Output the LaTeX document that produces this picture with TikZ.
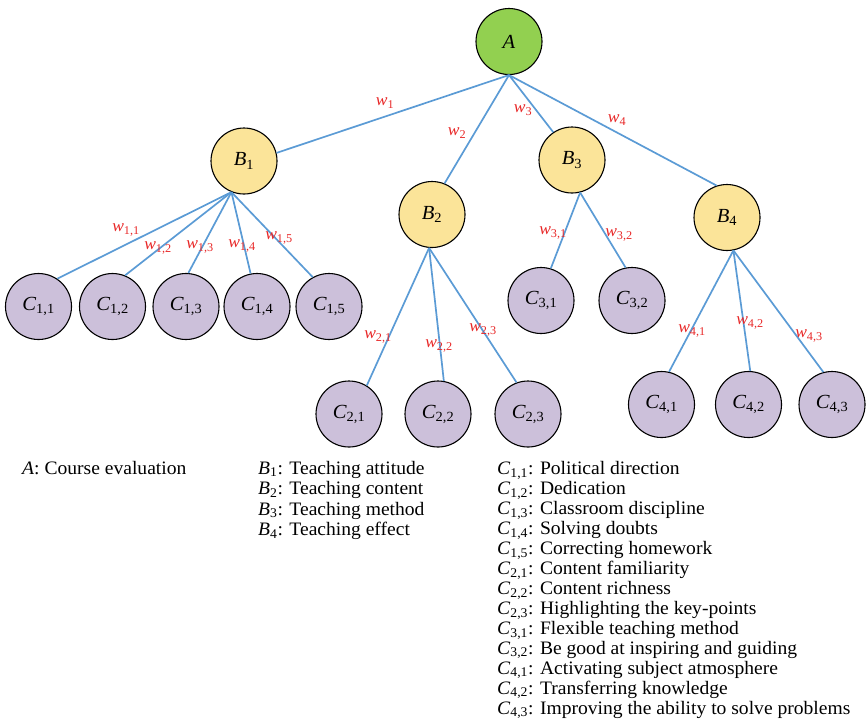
\documentclass[tikz,border=0pt]{standalone}
\usepackage{fontspec}
\setmainfont[FakeStretch=1.03]{Liberation Serif}
\definecolor{agreen}{RGB}{146,208,80}
\definecolor{byellow}{RGB}{251,228,153}
\definecolor{clilac}{RGB}{204,192,218}
\definecolor{lblue}{RGB}{91,155,213}
\definecolor{wred}{RGB}{232,40,40}
\newcommand{\nlab}[2]{\textit{#1}\textsubscript{#2}}
\tikzset{
  circ/.style={circle, draw=black, line width=1.1pt, minimum size=66pt, inner sep=0pt, font=\fontsize{20}{20}\selectfont},
  anode/.style={circ, fill=agreen},
  bnode/.style={circ, fill=byellow},
  cnode/.style={circ, fill=clilac},
  conn/.style={draw=lblue, line width=1.7pt},
  wlab/.style={text=wred, inner sep=0pt, font=\fontsize{17}{17}\selectfont},
  txt/.style={anchor=base west, inner sep=0pt, font=\fontsize{19}{20}\selectfont}
}
\begin{document}
\begin{tikzpicture}[x=1pt,y=-1pt]
\useasboundingbox (0,0) rectangle (866,721);
% nodes
\node[anode] (A) at (509,41.5) {\textit{A}};
\node[bnode] (B1) at (244,161) {\nlab{B}{1}};
\node[bnode] (B2) at (432,214.5) {\nlab{B}{2}};
\node[bnode] (B3) at (572,160) {\nlab{B}{3}};
\node[bnode] (B4) at (727,217.5) {\nlab{B}{4}};
\node[cnode] (C11) at (38.5,306.5) {\nlab{C}{1,1}};
\node[cnode] (C12) at (112.5,306.5) {\nlab{C}{1,2}};
\node[cnode] (C13) at (186,306.5) {\nlab{C}{1,3}};
\node[cnode] (C14) at (257,306.5) {\nlab{C}{1,4}};
\node[cnode] (C15) at (329,306.5) {\nlab{C}{1,5}};
\node[cnode] (C21) at (349,414) {\nlab{C}{2,1}};
\node[cnode] (C22) at (438,414) {\nlab{C}{2,2}};
\node[cnode] (C23) at (528,414) {\nlab{C}{2,3}};
\node[cnode] (C31) at (541,300.5) {\nlab{C}{3,1}};
\node[cnode] (C32) at (632,300.5) {\nlab{C}{3,2}};
\node[cnode] (C41) at (661.5,404.5) {\nlab{C}{4,1}};
\node[cnode] (C42) at (748.5,404.5) {\nlab{C}{4,2}};
\node[cnode] (C43) at (832,404.5) {\nlab{C}{4,3}};
% connectors
\draw[conn] (A.south) -- (B1.14);
\draw[conn] (A.south) -- (B2.68);
\draw[conn] (A.south) -- (B3.124);
\draw[conn] (A.south) -- (B4.108);
\draw[conn] (B1.248) -- (C11.56);
\draw[conn] (B1.248) -- (C12.68);
\draw[conn] (B1.248) -- (C13.86);
\draw[conn] (B1.248) -- (C14.101);
\draw[conn] (B1.248) -- (C15.119);
\draw[conn] (B2.265) -- (C21.58);
\draw[conn] (B2.265) -- (C22.80);
\draw[conn] (B2.265) -- (C23.110);
\draw[conn] (B3.284) -- (C31.73);
\draw[conn] (B3.284) -- (C32.101);
\draw[conn] (B4.281) -- (C41.77);
\draw[conn] (B4.281) -- (C42.87);
\draw[conn] (B4.281) -- (C43.105);
% weights
\node[wlab] (w1) at (385,103) {\nlab{w}{1}};
\node[wlab] (w2) at (457,133) {\nlab{w}{2}};
\node[wlab] (w3) at (523,110) {\nlab{w}{3}};
\node[wlab] (w4) at (617,120) {\nlab{w}{4}};
\node[wlab] (w11) at (126,230) {\nlab{w}{1,1}};
\node[wlab] (w12) at (158,248) {\nlab{w}{1,2}};
\node[wlab] (w13) at (200,247) {\nlab{w}{1,3}};
\node[wlab] (w14) at (242,246) {\nlab{w}{1,4}};
\node[wlab] (w15) at (279,238) {\nlab{w}{1,5}};
\node[wlab] (w21) at (378,337) {\nlab{w}{2,1}};
\node[wlab] (w22) at (439,346) {\nlab{w}{2,2}};
\node[wlab] (w23) at (483,330) {\nlab{w}{2,3}};
\node[wlab] (w31) at (553,233) {\nlab{w}{3,1}};
\node[wlab] (w32) at (619,235) {\nlab{w}{3,2}};
\node[wlab] (w41) at (692,331) {\nlab{w}{4,1}};
\node[wlab] (w42) at (750,323) {\nlab{w}{4,2}};
\node[wlab] (w43) at (809,336) {\nlab{w}{4,3}};
% legend
\node[txt] (tA) at (22,474) {\textit{A}: Course evaluation};
\node[txt] (tB1) at (258,474) {\nlab{B}{1}: Teaching attitude};
\node[txt] (tB2) at (258,494.5) {\nlab{B}{2}: Teaching content};
\node[txt] (tB3) at (258,515) {\nlab{B}{3}: Teaching method};
\node[txt] (tB4) at (258,535.5) {\nlab{B}{4}: Teaching effect};
\node[txt] (t1) at (497,474.5) {\nlab{C}{1,1}: Political direction};
\node[txt] (t2) at (497,494.5) {\nlab{C}{1,2}: Dedication};
\node[txt] (t3) at (497,514.5) {\nlab{C}{1,3}: Classroom discipline};
\node[txt] (t4) at (497,534.5) {\nlab{C}{1,4}: Solving doubts};
\node[txt] (t5) at (497,554.5) {\nlab{C}{1,5}: Correcting homework};
\node[txt] (t6) at (497,574.5) {\nlab{C}{2,1}: Content familiarity};
\node[txt] (t7) at (497,594.5) {\nlab{C}{2,2}: Content richness};
\node[txt] (t8) at (497,614.5) {\nlab{C}{2,3}: Highlighting the key-points};
\node[txt] (t9) at (497,634.5) {\nlab{C}{3,1}: Flexible teaching method};
\node[txt] (t10) at (497,654) {\nlab{C}{3,2}: Be good at inspiring and guiding};
\node[txt] (t11) at (497,674) {\nlab{C}{4,1}: Activating subject atmosphere};
\node[txt] (t12) at (497,694) {\nlab{C}{4,2}: Transferring knowledge};
\node[txt] (t13) at (497,714) {\nlab{C}{4,3}: Improving the ability to solve problems};
\end{tikzpicture}
\end{document}
